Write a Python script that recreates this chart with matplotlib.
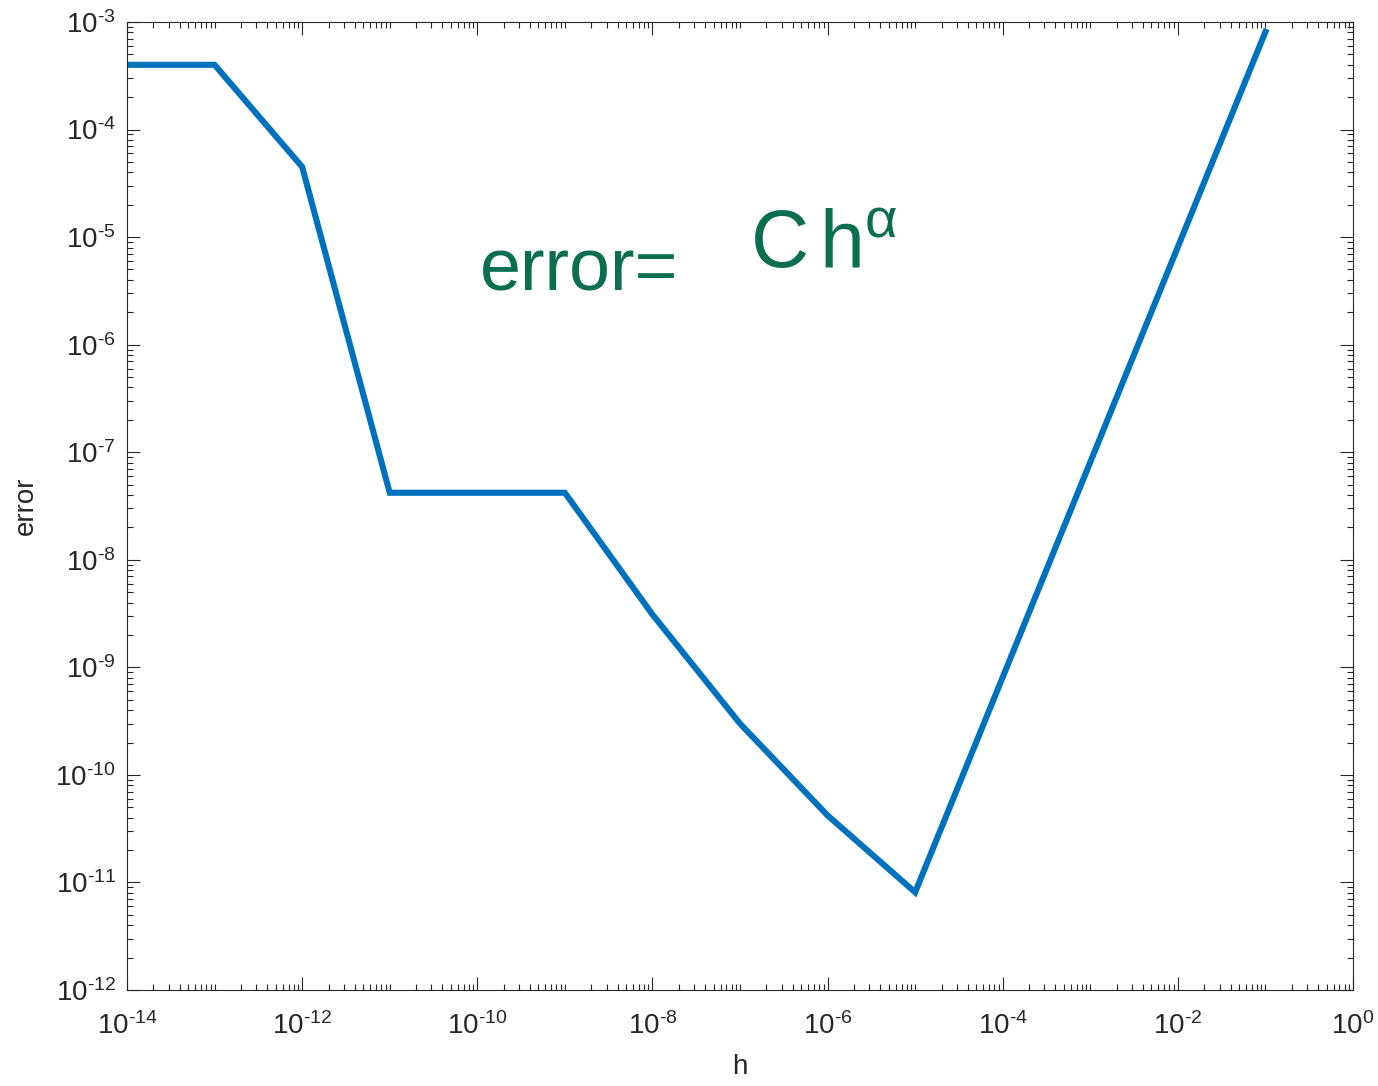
import numpy as np
import matplotlib.pyplot as plt
from matplotlib.ticker import LogLocator, NullFormatter, FuncFormatter

plt.rcParams['font.family'] = ['Liberation Sans', 'DejaVu Sans']
plt.rcParams['mathtext.fontset'] = 'custom'
plt.rcParams['mathtext.rm'] = 'Liberation Sans'
plt.rcParams['mathtext.it'] = 'Liberation Sans:italic'
plt.rcParams['mathtext.default'] = 'regular'

# step sizes and finite-difference error
h = [1e-14, 1e-13, 1e-12, 1e-11, 1e-10, 1e-9, 1e-8, 1e-7,
     1e-6, 1e-5, 1e-4, 1e-3, 1e-2, 1e-1]
err = [4.0e-4, 4.0e-4, 4.5e-5, 4.2e-8, 4.2e-8, 4.2e-8, 3.1e-9, 3.0e-10,
       4.2e-11, 8.1e-12, 8.1e-10, 8.1e-8, 8.1e-6, 8.1e-4]


def pow10(v, pos):
    e = int(round(np.log10(v)))
    return r'$10^{\text{%d}}$' % e


fig = plt.figure(figsize=(13.78, 10.86), dpi=100)
ax = fig.add_axes([127/1378, 1 - 990/1086, 1226/1378, 968/1086])

ax.loglog(h, err, color='#0072BD', linewidth=4.4, solid_joinstyle='miter')

ax.set_xlim(1e-14, 1e0)
ax.set_ylim(1e-12, 1e-3)

ax.set_xticks([10.0**k for k in range(-14, 1, 2)])
ax.xaxis.set_minor_locator(LogLocator(base=10, subs=np.arange(1, 10), numticks=30))
ax.set_yticks([10.0**k for k in range(-12, -2)])
ax.yaxis.set_minor_locator(LogLocator(base=10, subs=np.arange(2, 10), numticks=30))
ax.xaxis.set_major_formatter(FuncFormatter(pow10))
ax.yaxis.set_major_formatter(FuncFormatter(pow10))
ax.xaxis.set_minor_formatter(NullFormatter())
ax.yaxis.set_minor_formatter(NullFormatter())

ax.tick_params(which='both', direction='in', top=True, right=True,
               color='#262626', labelcolor='#262626', labelsize=20)
ax.tick_params(which='major', length=9.5, width=0.8)
ax.tick_params(which='minor', length=4.5, width=0.8)
ax.tick_params(axis='x', pad=16)
ax.tick_params(axis='y', pad=8)
for s in ax.spines.values():
    s.set_color('#262626')
    s.set_linewidth(0.8)

ax.set_xlabel('h', fontsize=20, color='#262626', labelpad=10)
ax.set_ylabel('error', fontsize=20, color='#262626', labelpad=12)

# hand-written style note
ax.text(0.288, 0.723, 'error=', transform=ax.transAxes,
        fontsize=53, color='#0b6e4f', ha='left', va='baseline')
ax.text(0.508, 0.746, r'C$\,$h$^{\alpha}$', transform=ax.transAxes,
        fontsize=58, color='#0b6e4f', ha='left', va='baseline')

fig.savefig('out.png', dpi=100)
